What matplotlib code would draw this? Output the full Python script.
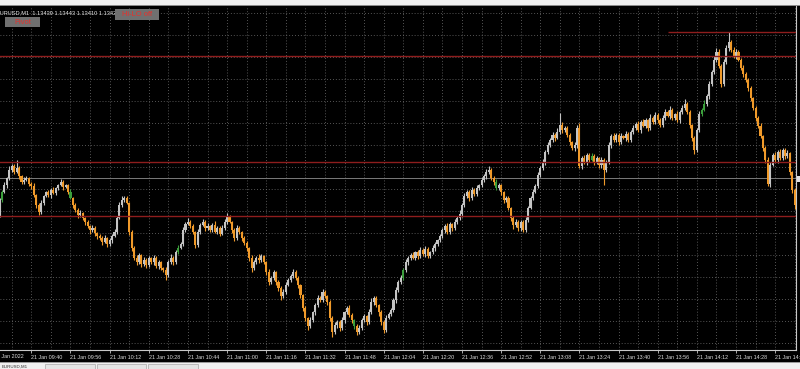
import matplotlib.pyplot as plt
from matplotlib.patches import Rectangle

# EURUSD M1 candles, prices stored as points above 1.13000
BASE = 1.13
PT = 0.00001
W, H = 800, 369

first_open = 353
closes = [
    380, 395, 407, 420, 435, 442, 431, 438, 424, 413, 416, 420, 409, 405, 389, 371, 358, 375, 387, 395,
    389, 398, 393, 402, 407, 413, 404, 407, 395, 384, 371, 362, 353, 356, 347, 340, 333, 325, 329, 320,
    315, 311, 304, 311, 300, 307, 315, 322, 347, 371, 380, 384, 375, 322, 293, 275, 267, 280, 264, 271,
    262, 275, 267, 275, 260, 267, 256, 253, 244, 267, 275, 267, 285, 293, 300, 325, 336, 340, 333, 322,
    298, 322, 335, 340, 329, 333, 325, 335, 322, 329, 318, 329, 340, 349, 340, 325, 311, 329, 322, 311,
    302, 293, 275, 256, 267, 275, 271, 278, 267, 249, 231, 238, 249, 231, 220, 205, 213, 225, 235, 242,
    249, 238, 225, 207, 184, 166, 151, 162, 176, 189, 202, 198, 213, 205, 195, 166, 140, 153, 158, 147,
    162, 176, 184, 171, 162, 151, 140, 147, 162, 169, 158, 176, 195, 202, 189, 176, 158, 144, 166, 173,
    180, 198, 216, 231, 238, 253, 267, 275, 280, 275, 285, 278, 289, 282, 291, 278, 285, 293, 300, 307,
    315, 325, 333, 322, 336, 329, 340, 347, 355, 371, 387, 395, 384, 398, 391, 402, 407, 416, 424, 431,
    435, 420, 413, 402, 407, 395, 380, 384, 366, 347, 335, 340, 329, 340, 325, 344, 366, 384, 395, 405,
    425, 438, 449, 467, 480, 489, 498, 493, 504, 516, 507, 511, 498, 485, 475, 480, 511, 442, 456, 449,
    462, 453, 460, 449, 456, 444, 453, 435, 449, 480, 496, 489, 498, 485, 496, 493, 500, 489, 504, 511,
    518, 507, 522, 515, 525, 511, 529, 522, 535, 525, 516, 529, 540, 533, 544, 529, 536, 525, 540, 547,
    555, 540, 516, 493, 471, 507, 536, 544, 555, 569, 591, 613, 635, 649, 624, 591, 631, 656, 667, 653,
    642, 649, 635, 620, 609, 598, 584, 565, 547, 529, 515, 496, 475, 453, 409, 444, 462, 453, 467, 456,
    471, 460, 465, 431, 398, 371,
]
upper_wick = [
    4, 3, 5, 2, 6, 3, 4, 15, 3, 2, 5, 4, 2, 3, 6, 2, 4, 5, 3, 2,
    4, 3, 5, 2, 3, 6, 4, 2, 3, 5, 2, 4, 3, 5, 2, 3, 4, 2, 6, 3,
    2, 4, 3, 5, 2, 4, 3, 6, 4, 5, 7, 4, 3, 2, 4, 3, 5, 4, 2, 6,
    3, 4, 2, 5, 3, 4, 2, 3, 5, 4, 6, 3, 4, 5, 3, 6, 4, 7, 3, 4,
    2, 5, 4, 6, 3, 5, 2, 4, 6, 3, 4, 5, 6, 8, 3, 2, 4, 5, 3, 2,
    4, 3, 2, 5, 4, 3, 6, 4, 2, 3, 5, 4, 3, 2, 4, 3, 5, 6, 4, 3,
    6, 4, 3, 2, 3, 4, 2, 5, 3, 4, 6, 3, 5, 4, 2, 3, 4, 5, 3, 4,
    5, 3, 4, 6, 3, 2, 4, 5, 3, 4, 2, 5, 6, 4, 3, 2, 4, 3, 5, 4,
    3, 4, 5, 3, 6, 4, 5, 3, 4, 6, 3, 4, 5, 3, 6, 4, 3, 5, 4, 3,
    4, 5, 3, 6, 4, 3, 5, 4, 6, 3, 5, 4, 3, 6, 4, 5, 3, 6, 4, 5,
    7, 4, 3, 5, 4, 3, 2, 4, 3, 2, 4, 5, 3, 4, 3, 5, 4, 3, 5, 4,
    6, 4, 5, 3, 6, 4, 5, 3, 6, 22, 5, 4, 3, 4, 3, 5, 6, 9, 4, 5,
    3, 4, 5, 3, 4, 3, 5, 4, 3, 6, 4, 5, 3, 4, 6, 3, 5, 4, 3, 6,
    4, 5, 3, 6, 4, 3, 7, 4, 5, 3, 4, 6, 5, 3, 6, 4, 3, 5, 4, 6,
    8, 4, 3, 2, 4, 3, 5, 4, 6, 3, 5, 4, 6, 7, 5, 3, 6, 5, 18, 4,
    5, 6, 3, 4, 5, 3, 4, 3, 2, 4, 3, 5, 3, 4, 6, 5, 4, 6, 3, 5,
    4, 3, 6, 3, 2, 4,
]
lower_wick = [
    3, 4, 2, 5, 3, 4, 3, 2, 5, 3, 4, 2, 3, 5, 4, 6, 5, 3, 4, 2,
    3, 5, 2, 4, 3, 2, 5, 3, 4, 3, 5, 4, 6, 3, 4, 5, 3, 6, 4, 5,
    6, 4, 5, 3, 6, 4, 5, 3, 4, 2, 3, 4, 3, 5, 6, 4, 5, 3, 6, 4,
    5, 3, 4, 6, 3, 5, 4, 3, 9, 4, 3, 5, 4, 3, 2, 3, 4, 2, 3, 4,
    5, 3, 4, 2, 5, 3, 4, 3, 2, 4, 3, 2, 4, 3, 2, 5, 6, 3, 4, 5,
    3, 6, 5, 7, 4, 3, 5, 4, 3, 6, 5, 4, 3, 6, 5, 7, 4, 3, 2, 4,
    3, 4, 5, 6, 5, 6, 7, 4, 3, 5, 4, 3, 4, 3, 5, 6, 9, 4, 5, 6,
    4, 5, 3, 4, 5, 6, 5, 4, 3, 4, 5, 4, 3, 5, 4, 6, 5, 6, 4, 3,
    4, 3, 5, 4, 3, 4, 3, 5, 4, 3, 4, 5, 3, 4, 5, 3, 4, 3, 5, 4,
    3, 4, 5, 3, 4, 5, 3, 4, 3, 5, 4, 3, 5, 4, 3, 4, 3, 4, 3, 5,
    4, 3, 5, 4, 3, 5, 6, 4, 5, 6, 7, 4, 5, 6, 4, 3, 4, 3, 4, 3,
    3, 4, 3, 5, 4, 3, 4, 5, 3, 4, 5, 3, 4, 5, 4, 6, 5, 4, 5, 4,
    5, 4, 3, 5, 4, 6, 5, 28, 4, 3, 5, 4, 3, 5, 4, 3, 5, 4, 3, 4,
    3, 4, 5, 3, 4, 5, 3, 4, 3, 5, 4, 3, 4, 3, 5, 4, 3, 4, 5, 3,
    4, 3, 5, 6, 7, 4, 3, 4, 3, 4, 5, 3, 4, 5, 4, 6, 3, 4, 5, 4,
    4, 5, 3, 4, 5, 4, 6, 5, 4, 6, 5, 4, 6, 5, 4, 5, 3, 4, 5, 4,
    3, 5, 4, 6, 5, 7,
]
green_bars = [1, 29, 73, 145, 165, 203, 242, 287, 288]

time_labels = ['21 Jan 09:40', '21 Jan 09:56', '21 Jan 10:12', '21 Jan 10:28', '21 Jan 10:44',
               '21 Jan 11:00', '21 Jan 11:16', '21 Jan 11:32', '21 Jan 11:48', '21 Jan 12:04',
               '21 Jan 12:20', '21 Jan 12:36', '21 Jan 12:52', '21 Jan 13:08', '21 Jan 13:24',
               '21 Jan 13:40', '21 Jan 13:56', '21 Jan 14:12', '21 Jan 14:28', '21 Jan 14:44']
first_label_bar = 13   # 09:40 candle
label_step = 16

pivot_levels = [1.13642, 1.13449, 1.13351]
day_high = 1.13686
day_high_from = 273.2
bid = 1.13420
header = 'EURUSD,M1  1.13439 1.13443 1.13410 1.13420'

BULL = '#c4c4c4'
BEAR = '#f09a2a'
GREEN = '#3c9f3c'
PIVOT_RED = '#8e1d1d'

fig = plt.figure(figsize=(W / 100, H / 100), dpi=100, facecolor='black')
ax = fig.add_axes([0, 19 / H, 796 / W, 344 / H])
ax.set_facecolor('black')
ax.set_xlim(0.2, 325.5)
ax.set_ylim(BASE + 107.3 * PT, BASE + 732.7 * PT)

# grid: vertical every 8 bars, horizontal every 40 points
ax.set_xticks([first_label_bar + label_step * k for k in range(len(time_labels))])
ax.set_xticklabels(time_labels, ha='left', fontsize=3.9, color='#dcdcdc',
                   family='Liberation Sans')
ax.set_xticks(range(first_label_bar - 8, 326, 16), minor=True)
ax.set_yticks([BASE + p * PT for p in range(120, 760, 40)])
ax.set_yticklabels([])
ax.tick_params(axis='y', length=0)
ax.tick_params(axis='x', which='major', length=2, width=0.6, color='#c8c8c8', pad=1.5)
ax.tick_params(axis='x', which='minor', length=0)
ax.grid(True, which='both', color='#727272', linestyle=(0, (1, 2.5)), linewidth=0.6)
ax.set_axisbelow(True)
for side in ['left', 'top']:
    ax.spines[side].set_visible(False)
for side in ['right', 'bottom']:
    ax.spines[side].set_color('#c8c8c8')
    ax.spines[side].set_linewidth(0.8)

# candles
opens = [first_open] + closes[:-1]
for i, (o, c, uw, lw) in enumerate(zip(opens, closes, upper_wick, lower_wick)):
    if i in green_bars:
        col = GREEN
    elif c >= o:
        col = BULL
    else:
        col = BEAR
    hi = max(o, c) + uw
    lo = min(o, c) - lw
    ax.vlines(i, BASE + lo * PT, BASE + hi * PT, color=col, linewidth=0.8, zorder=3)
    body = max(abs(c - o), 1.5)
    ax.bar(i, body * PT, bottom=BASE + min(o, c) * PT, width=0.85, color=col,
           linewidth=0, zorder=3)

# pivot lines, day high and bid
for lvl in pivot_levels:
    ax.axhline(lvl, color=PIVOT_RED, linewidth=1.0, zorder=4)
ax.hlines(day_high, day_high_from, 325.5, color=PIVOT_RED, linewidth=1.0, zorder=4)
ax.axhline(bid, color='#7a7a7a', linewidth=0.7, zorder=2)


def px(x, y):
    return x / W, 1 - y / H


# first date label, cut at the left edge like the screenshot
fig.text(*px(-6, 356), '21 Jan 2022', fontsize=3.9, color='#dcdcdc',
         family='Liberation Sans', va='center', ha='left')

# header and indicator buttons
fig.text(*px(-4, 13), header, fontsize=4.1, color='#e6e6e6',
         family='Liberation Sans', va='center', ha='left')
fig.patches.append(Rectangle(px(5, 27), 35 / W, 10 / H, transform=fig.transFigure,
                             facecolor='#707070', edgecolor='none', zorder=5))
fig.text(*px(22.5, 22), 'Pivot', fontsize=5.4, color='#e8302a',
         family='Liberation Sans', va='center', ha='center', zorder=6)
fig.patches.append(Rectangle(px(115, 20), 44 / W, 11 / H, transform=fig.transFigure,
                             facecolor='#707070', edgecolor='none', zorder=5))
fig.text(*px(137, 14.5), 'Hi-LO off', fontsize=5.4, color='#e8302a',
         family='Liberation Sans', va='center', ha='center', zorder=6)

# bid price marker on the (cut) price scale
fig.patches.append(Rectangle(px(797, 182), 3 / W, 6 / H, transform=fig.transFigure,
                             facecolor='#e0e0e0', edgecolor='none'))

# window chrome: toolbar on top, symbol tabs at the bottom
fig.patches.append(Rectangle(px(0, 5), 1, 5 / H, transform=fig.transFigure,
                             facecolor='#efefef', edgecolor='none'))
fig.patches.append(Rectangle(px(0, 6), 1, 1 / H, transform=fig.transFigure,
                             facecolor='#8a8a8a', edgecolor='none'))
fig.patches.append(Rectangle(px(0, 369), 1, 7 / H, transform=fig.transFigure,
                             facecolor='#f0f0f0', edgecolor='none'))
fig.patches.append(Rectangle(px(0, 363), 1, 1 / H, transform=fig.transFigure,
                             facecolor='#9a9a9a', edgecolor='none'))
for x0, x1 in [(45, 95), (97, 146), (148, 198)]:
    fig.patches.append(Rectangle(px(x0, 369), (x1 - x0) / W, 5 / H, transform=fig.transFigure,
                                 facecolor='#e4e4e4', edgecolor='#a8a8a8', linewidth=0.5))
fig.text(*px(2, 366.5), 'EURUSD,M1', fontsize=3.2, color='#303030',
         family='Liberation Sans', va='center', ha='left')

fig.savefig('out.png', dpi=100, facecolor='black')
